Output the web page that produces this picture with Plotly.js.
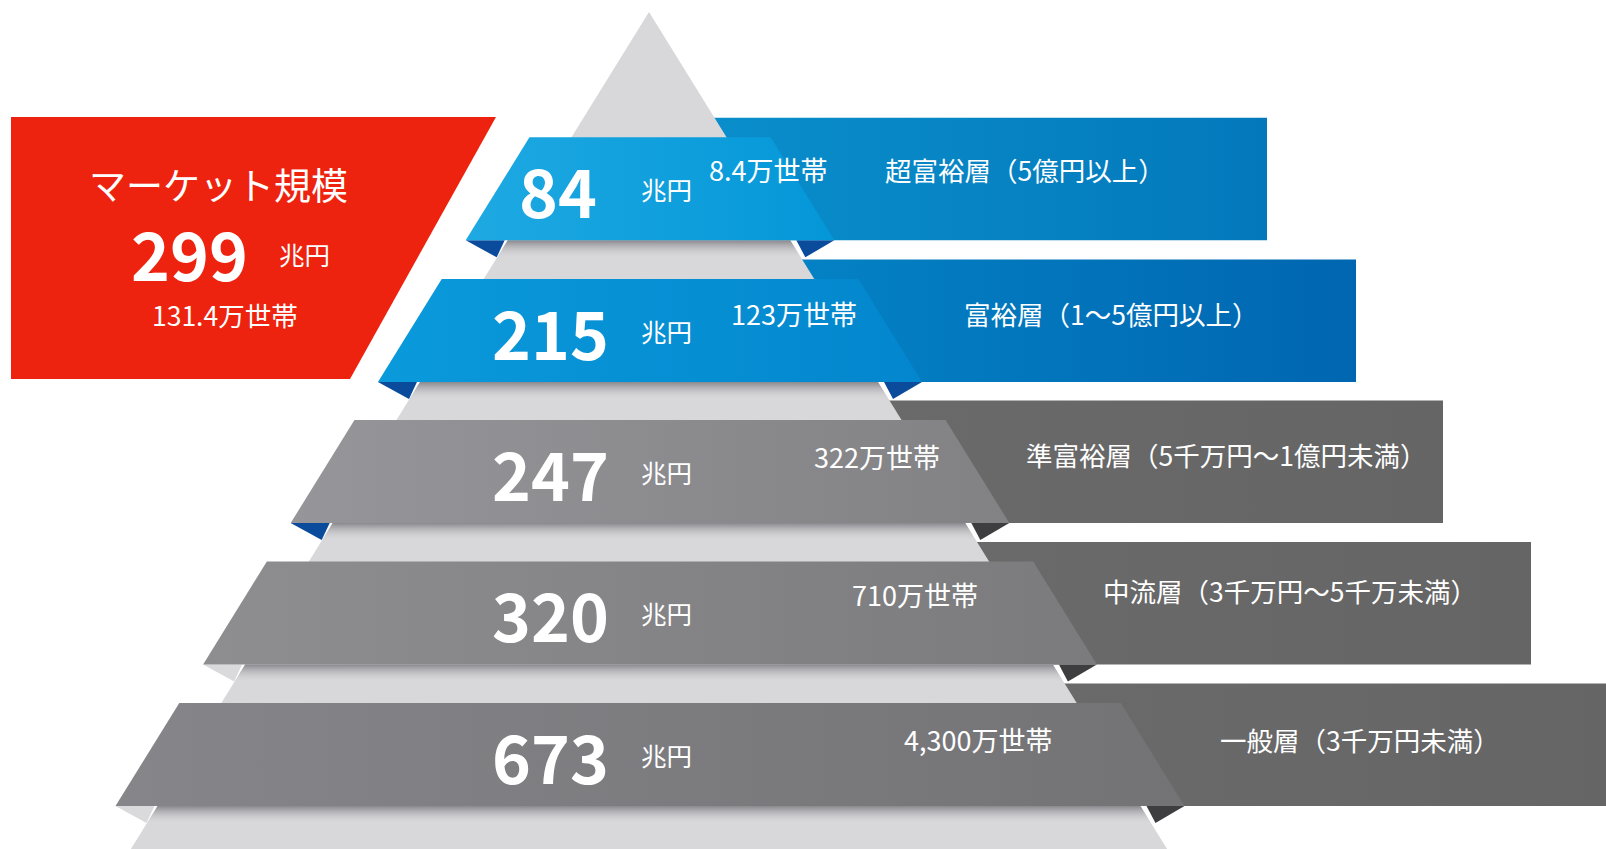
<!DOCTYPE html>
<html>
<head>
<meta charset="utf-8">
<script src="https://cdn.plot.ly/plotly-3.0.1.min.js"></script>
<style>
  html, body { margin: 0; padding: 0; background: #fff; }
  #pyramid { width: 1606px; height: 849px; }
</style>
</head>
<body>
<div id="pyramid"></div>
<script>
// --- data ---
var tierNames = ['超富裕層（5億円以上）', '富裕層（1～5億円以上）', '準富裕層（5千万円～1億円未満）', '中流層（3千万円～5千万未満）', '一般層（3千万円未満）'];
var marketYen = [84, 215, 247, 320, 673];
var households = ['8.4万世帯', '123万世帯', '322万世帯', '710万世帯', '4,300万世帯'];
var unitLabel = '兆円';
var totalTitle = 'マーケット規模';
var totalYen = 299;
var totalHouseholds = '131.4万世帯';

// --- layout geometry (pixels, y grows downward) ---
var W = 1606, H = 849;
var apex = [649, 12];
var slope = 0.619;               // pyramid edge dx/dy
var bandTop = [137.3, 279, 420, 561.5, 703];
var bandH = 103;
var backRise = 19.5;
var backRight = [1267, 1356, 1443, 1531, 1640];
var overhang = [42, 44];         // front band beyond pyramid edge (left, right)
var numX = [558, 550, 550, 550, 550];
var unitX = 666;
var hhX = [768, 794, 877, 915, 978];
var hhY = [169, 313, 456, 594, 739];
var nameX = [1025, 1111, 1226, 1290, 1360];
var nameY = [169, 313, 454, 590, 739];

// --- styles ---
var frontColors = [['#1EA9E2', '#0497D8'], ['#0A9ADB', '#0386CD'], ['#96969A', '#828285'], ['#8E8E91', '#7B7B7E'], ['#86868A', '#737376']];
var backColors = [['#0A8ECB', '#0379BC'], ['#0482C5', '#0066B1'], ['#6A6A6A', '#656565'], ['#6A6A6A', '#656565'], ['#6A6A6A', '#656565']];
var foldColors = ['#0B4B9C', '#0B4B9C', '#0B4B9C', '#DADADD', '#DADADD'];
var foldRight = ['#0B4B9C', '#0B4B9C', '#3E3E40', '#3E3E40', '#3E3E40'];
var pyramidColor = '#D8D8DB';
var redColor = '#EE230F';
var font = '"Noto Sans CJK JP", "Noto Sans", sans-serif';

function leftEdge(y) { return apex[0] - slope * (y - apex[1]); }
function rightEdge(y) { return apex[0] + slope * (y - apex[1]); }

function poly(xs, ys, color, grad) {
  var t = {
    x: xs.concat([xs[0]]), y: ys.concat([ys[0]]),
    mode: 'lines', line: { width: 0, color: color },
    fill: 'toself', fillcolor: color,
    hoverinfo: 'skip', showlegend: false
  };
  if (grad) t.fillgradient = grad;
  return t;
}

var traces = [];

// back panels (behind the pyramid)
for (var i = 0; i < marketYen.length; i++) {
  var bt = bandTop[i] - backRise, bb = bandTop[i] + bandH;
  var x0 = rightEdge(bt) - 10;
  traces.push(poly([x0, backRight[i], backRight[i], x0], [bt, bt, bb, bb], backColors[i][0],
    { type: 'horizontal', start: x0, stop: backRight[i], colorscale: [[0, backColors[i][0]], [1, backColors[i][1]]] }));
}

// pyramid
traces.push(poly([apex[0], rightEdge(H + 20), leftEdge(H + 20)], [apex[1], H + 20, H + 20], pyramidColor));

// soft shadows under each band
for (var i = 0; i < marketYen.length; i++) {
  var s0 = bandTop[i] + bandH, s1 = s0 + 18;
  traces.push(poly([leftEdge(s0), rightEdge(s0), rightEdge(s1), leftEdge(s1)], [s0, s0, s1, s1], 'rgba(120,120,125,0.5)',
    { type: 'vertical', start: s0, stop: s1, colorscale: [[0, 'rgba(110,110,115,0.75)'], [1, 'rgba(216,216,219,0)']] }));
}

// front bands + folds
for (var i = 0; i < marketYen.length; i++) {
  var t = bandTop[i], b = t + bandH;
  var tl = leftEdge(t) - overhang[0], bl = leftEdge(b) - overhang[0];
  var tr = rightEdge(t) + overhang[1], br = rightEdge(b) + overhang[1];
  traces.push(poly([bl, bl + 31, bl + 39], [b, b + 17, b], foldColors[i]));
  traces.push(poly([br - 38, br - 29, br], [b, b + 17, b], foldRight[i]));
  traces.push(poly([tl, tr, br, bl], [t, t, b, b], frontColors[i][0],
    { type: 'horizontal', start: bl, stop: br, colorscale: [[0, frontColors[i][0]], [1, frontColors[i][1]]] }));
}

// market size box
traces.push(poly([11, 496, 350, 11], [117, 117, 379, 379], redColor));

var annotations = [];
function label(x, y, text, size, bold) {
  annotations.push({
    x: x, y: y, xref: 'x', yref: 'y', text: bold ? '<b>' + text + '</b>' : text,
    showarrow: false, xanchor: 'center', yanchor: 'middle',
    font: { family: font, size: size, color: '#FFFFFF' }
  });
}

for (var i = 0; i < marketYen.length; i++) {
  label(numX[i], bandTop[i] + 51.5, String(marketYen[i]), 66, true);
  label(unitX, bandTop[i] + 51, unitLabel, 25.5, false);
  label(hhX[i], hhY[i], households[i], 27, false);
  label(nameX[i], nameY[i], tierNames[i], 26.5, false);
}
label(218, 184, totalTitle, 37, false);
label(189, 252, String(totalYen), 66, true);
label(304, 253, unitLabel, 25.5, false);
label(225, 314, totalHouseholds, 26.5, false);

var layout = {
  width: W, height: H,
  margin: { l: 0, r: 0, t: 0, b: 0 },
  paper_bgcolor: '#FFFFFF', plot_bgcolor: '#FFFFFF',
  xaxis: { range: [0, W], visible: false, fixedrange: true },
  yaxis: { range: [H, 0], visible: false, fixedrange: true },
  showlegend: false,
  annotations: annotations
};

Plotly.newPlot('pyramid', traces, layout, { displayModeBar: false, staticPlot: true });
</script>
</body>
</html>
